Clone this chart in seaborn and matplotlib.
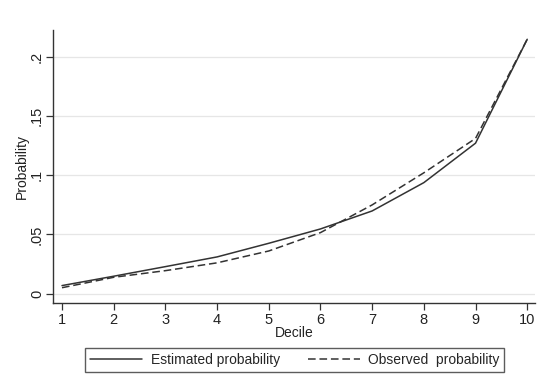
import matplotlib
matplotlib.use("Agg")
import matplotlib.pyplot as plt
import seaborn as sns
import pandas as pd
from matplotlib.lines import Line2D

decile = [1, 2, 3, 4, 5, 6, 7, 8, 9, 10]
estimated = [0.0068, 0.0147, 0.0228, 0.031, 0.0425, 0.0546, 0.0698, 0.0937, 0.127, 0.2147]
observed = [0.005, 0.0138, 0.0194, 0.026, 0.036, 0.0515, 0.0749, 0.102, 0.131, 0.2147]
series_names = ["Estimated probability", "Observed  probability"]
y_ticks = [0, 0.05, 0.1, 0.15, 0.2]
y_tick_labels = ["0", ".05", ".1", ".15", ".2"]

df = pd.DataFrame({
    "Decile": decile * 2,
    "Probability": estimated + observed,
    "series": [series_names[0]] * len(decile) + [series_names[1]] * len(decile),
})

sns.set_style("white")
plt.rcParams["font.family"] = ["Liberation Sans", "DejaVu Sans"]

fig = plt.figure(figsize=(5.37, 3.74), dpi=100)
ax = fig.add_axes([0.0987, 0.19, 0.898, 0.73])

sns.lineplot(data=df, x="Decile", y="Probability", style="series",
             dashes={series_names[0]: "", series_names[1]: (5, 2.5)},
             color="#333333", linewidth=1.1, ax=ax, legend=False)

for y in y_ticks:
    ax.axhline(y, color="#e6e6e6", linewidth=0.9, zorder=0)

ax.set_xlim(0.826, 10.155)
ax.set_ylim(-0.00785, 0.2226)
ax.set_xticks(decile)
ax.set_yticks(y_ticks)
ax.set_yticklabels(y_tick_labels, rotation=90, va="center")
ax.tick_params(axis="both", direction="out", length=5, width=0.9, color="#333333",
               labelsize=10.5, labelcolor="#222222", left=True, bottom=True)
ax.tick_params(axis="y", pad=1.5)
ax.tick_params(axis="x", pad=2.5)
ax.set_xlabel("Decile", fontsize=10, color="#222222", labelpad=-1)
ax.set_ylabel("Probability", fontsize=10, color="#222222", labelpad=1)

for s in ["top", "right"]:
    ax.spines[s].set_visible(False)
for s in ["left", "bottom"]:
    ax.spines[s].set_color("#333333")
    ax.spines[s].set_linewidth(1.0)

handles = [Line2D([], [], color="#333333", linewidth=1.1),
           Line2D([], [], color="#333333", linewidth=1.1, dashes=(5, 2.5))]
leg = fig.legend(handles, series_names, loc="center", bbox_to_anchor=(0.549, 0.037),
                 ncol=2, frameon=True, fancybox=False, fontsize=10,
                 handlelength=3.75, columnspacing=2.0, borderpad=0.35,
                 handletextpad=0.6)
leg.get_frame().set_edgecolor("#333333")
leg.get_frame().set_linewidth(1.0)

fig.savefig("out.png", dpi=100)
